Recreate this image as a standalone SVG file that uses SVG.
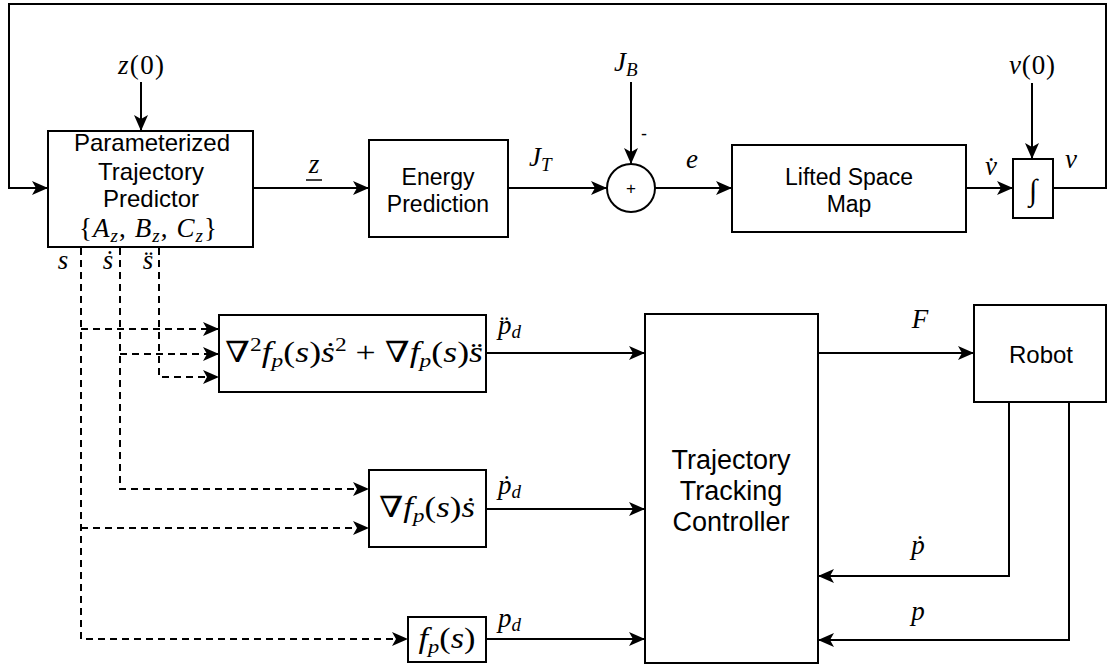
<svg xmlns="http://www.w3.org/2000/svg" width="1108" height="666" viewBox="0 0 1108 666">
<style>
.box{fill:#fff;stroke:#000;stroke-width:2}
.ln{fill:none;stroke:#000;stroke-width:2}
.dash{fill:none;stroke:#000;stroke-width:2;stroke-dasharray:7 5}
.t{font-family:"Liberation Sans",Arial,sans-serif;font-size:23px;fill:#000;text-anchor:middle}
.m{font-family:"Liberation Serif","Times New Roman",serif;font-size:27px;fill:#000;font-style:italic}
.u{font-style:normal}
.sb{font-size:19px}
.nb{font-family:"DejaVu Serif",serif;font-style:normal}
</style>
<defs>
<marker id="ah" markerUnits="userSpaceOnUse" markerWidth="17" markerHeight="15" refX="16" refY="7" orient="auto">
<path d="M0,0 L16,7 L0,14 L4,7 Z" fill="#000" stroke="none"/>
</marker>
</defs>
<rect width="1108" height="666" fill="#fff"/>
<g id="connectors">
<path class="ln" d="M1053,188 H1106 V4 H9 V188 H48" marker-end="url(#ah)"/>
<path class="ln" d="M141,82 V131" marker-end="url(#ah)"/>
<path class="ln" d="M253,188 H369" marker-end="url(#ah)"/>
<path class="ln" d="M508,188 H607" marker-end="url(#ah)"/>
<path class="ln" d="M631,82 V164" marker-end="url(#ah)"/>
<path class="ln" d="M655,188 H732" marker-end="url(#ah)"/>
<path class="ln" d="M966,188 H1013" marker-end="url(#ah)"/>
<path class="ln" d="M1032,83 V159" marker-end="url(#ah)"/>
<path class="ln" d="M818,353 H974" marker-end="url(#ah)"/>
<path class="ln" d="M486,353 H645" marker-end="url(#ah)"/>
<path class="ln" d="M486,509 H645" marker-end="url(#ah)"/>
<path class="ln" d="M486,639 H645" marker-end="url(#ah)"/>
<path class="ln" d="M1009,402 V576 H818" marker-end="url(#ah)"/>
<path class="ln" d="M1069,402 V640 H818" marker-end="url(#ah)"/>
<path class="dash" d="M81,248 V639 H408" marker-end="url(#ah)"/>
<path class="dash" d="M81,329 H219" marker-end="url(#ah)"/>
<path class="dash" d="M81,528 H369" marker-end="url(#ah)"/>
<path class="dash" d="M120,248 V489 H369" marker-end="url(#ah)"/>
<path class="dash" d="M120,354 H219" marker-end="url(#ah)"/>
<path class="dash" d="M159,248 V377 H219" marker-end="url(#ah)"/>
</g>
<g id="predictor">
<rect class="box" x="48" y="131" width="205" height="116"/>
<text class="t" x="152" y="151" style="font-size:24px">Parameterized</text>
<text class="t" x="151" y="180" style="font-size:24px">Trajectory</text>
<text class="t" x="151" y="207" style="font-size:24px">Predictor</text>
<text class="m" x="148" y="237" text-anchor="middle" textLength="138" lengthAdjust="spacing"><tspan class="u">{</tspan>A<tspan class="sb" dy="5">z</tspan><tspan class="u" dy="-5">, </tspan>B<tspan class="sb" dy="5">z</tspan><tspan class="u" dy="-5">, </tspan>C<tspan class="sb" dy="5">z</tspan><tspan class="u" dy="-5">}</tspan></text>
</g>
<g id="energy">
<rect class="box" x="369" y="140" width="139" height="97"/>
<text class="t" x="438" y="185">Energy</text>
<text class="t" x="438" y="212">Prediction</text>
</g>
<g id="sum">
<circle cx="631" cy="188" r="24" fill="#fff" stroke="#000" stroke-width="2"/>
<text class="t" x="631" y="194" style="font-size:17px">+</text>
</g>
<g id="lifted">
<rect class="box" x="732" y="145" width="234" height="87"/>
<text class="t" x="849" y="185">Lifted Space</text>
<text class="t" x="849" y="212">Map</text>
</g>
<g id="integrator">
<rect class="box" x="1013" y="159" width="40" height="59"/>
<text class="m" x="1033" y="200" text-anchor="middle" style="font-size:30px">∫</text>
</g>
<g id="robot">
<rect class="box" x="974" y="305" width="132" height="97"/>
<text class="t" x="1041" y="363" style="font-size:24px">Robot</text>
</g>
<g id="controller">
<rect class="box" x="645" y="314" width="173" height="349"/>
<text class="t" x="731" y="469" style="font-size:27px">Trajectory</text>
<text class="t" x="731" y="500" style="font-size:27px">Tracking</text>
<text class="t" x="731" y="531" style="font-size:27px">Controller</text>
</g>
<g id="accel">
<rect class="box" x="219" y="315" width="267" height="77"/>
<text class="m" x="354" y="362" text-anchor="middle" textLength="258" lengthAdjust="spacingAndGlyphs" style="font-size:29px"><tspan class="nb">∇</tspan><tspan class="u sb" dy="-11">2</tspan><tspan dy="11">f</tspan><tspan class="sb" dy="5">p</tspan><tspan class="u" dy="-5">(</tspan>s<tspan class="u">)</tspan>ṡ<tspan class="u sb" dy="-11">2</tspan><tspan class="u" dy="11"> + </tspan><tspan class="nb">∇</tspan>f<tspan class="sb" dy="5">p</tspan><tspan class="u" dy="-5">(</tspan>s<tspan class="u">)</tspan>s̈</text>
</g>
<g id="vel">
<rect class="box" x="369" y="470" width="117" height="77"/>
<text class="m" x="427" y="517" text-anchor="middle" textLength="96" lengthAdjust="spacingAndGlyphs" style="font-size:29px"><tspan class="nb">∇</tspan>f<tspan class="sb" dy="5">p</tspan><tspan class="u" dy="-5">(</tspan>s<tspan class="u">)</tspan>ṡ</text>
</g>
<g id="pos">
<rect class="box" x="408" y="617" width="78" height="45"/>
<text class="m" x="447" y="648" text-anchor="middle" textLength="57" lengthAdjust="spacingAndGlyphs" style="font-size:29px">f<tspan class="sb" dy="5">p</tspan><tspan class="u" dy="-5">(</tspan>s<tspan class="u">)</tspan></text>
</g>
<g id="labels">
<text class="m" x="141" y="74" text-anchor="middle" textLength="46" lengthAdjust="spacing">z<tspan class="u">(0)</tspan></text>
<text class="m" x="1032" y="74" text-anchor="middle" textLength="46" lengthAdjust="spacing">v<tspan class="u">(0)</tspan></text>
<text class="m" x="614" y="71">J<tspan class="sb" dy="5">B</tspan></text>
<text class="m" x="529" y="166">J<tspan class="sb" dy="5">T</tspan></text>
<text class="m" x="692" y="168" text-anchor="middle">e</text>
<text class="m" x="314" y="173" text-anchor="middle">z</text>
<line x1="306" y1="180" x2="322" y2="180" stroke="#000" stroke-width="1.5"/>
<text class="m" x="991" y="175" text-anchor="middle">v̇</text>
<text class="m" x="1071" y="168" text-anchor="middle">v</text>
<text class="t" x="644" y="140" style="font-size:18px">-</text>
<text class="m" x="63" y="269" text-anchor="middle">s</text>
<text class="m" x="108" y="269" text-anchor="middle">ṡ</text>
<text class="m" x="148" y="269" text-anchor="middle">s̈</text>
<text class="m" x="498" y="334">p̈<tspan class="sb" dy="4">d</tspan></text>
<text class="m" x="498" y="494">ṗ<tspan class="sb" dy="4">d</tspan></text>
<text class="m" x="498" y="627">p<tspan class="sb" dy="4">d</tspan></text>
<text class="m" x="920" y="328" text-anchor="middle">F</text>
<text class="m" x="918" y="554" text-anchor="middle">ṗ</text>
<text class="m" x="918" y="620" text-anchor="middle">p</text>
</g>
</svg>
